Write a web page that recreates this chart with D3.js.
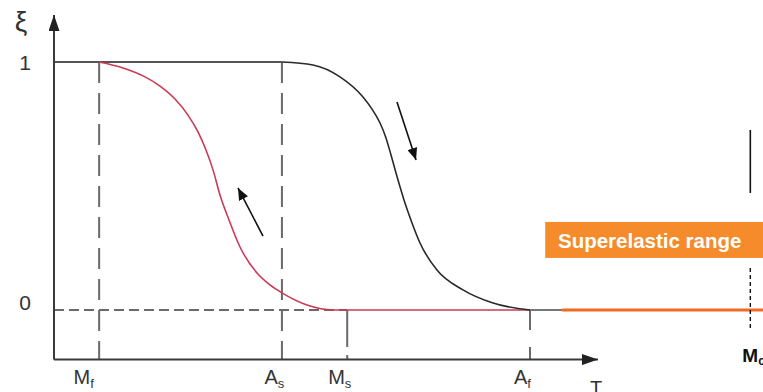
<!DOCTYPE html>
<html>
<head>
<meta charset="utf-8">
<script src="https://cdn.jsdelivr.net/npm/d3@7/dist/d3.min.js"></script>
<style>
  html, body { margin: 0; padding: 0; background: #fff; }
  svg { display: block; font-family: "Liberation Sans", Arial, sans-serif; }
</style>
</head>
<body>
<svg id="chart" width="763" height="392"></svg>
<script>
// Transformation temperatures (T, arbitrary units) with their symbols
const transitionMain = ["M", "A", "M", "A"];
const transitionSub = ["f", "s", "s", "f"];
const transitionT = [8.3, 41.9, 53.9, 87.5];
const mcT = 128;

// Martensite fraction ticks
const xiTicks = [0, 1];

// Cooling branch (austenite -> martensite), red
const coolingT = [8.27, 12.68, 16.73, 19.49, 22.24, 24.63, 26.47, 27.94, 29.23, 30.51, 32.17, 34.19, 37.32, 39.71, 41.91, 46.51, 51.29, 87.5];
const coolingXi = [1, 0.976, 0.940, 0.903, 0.851, 0.786, 0.718, 0.645, 0.565, 0.464, 0.363, 0.254, 0.149, 0.101, 0.069, 0.020, 0, 0];

// Heating branch (martensite -> austenite), black
const heatingT = [41.91, 47.61, 52.57, 56.80, 58.46, 59.93, 61.03, 61.95, 63.24, 64.52, 65.81, 67.28, 70.40, 75.18, 80.70, 87.5];
const heatingXi = [1, 0.988, 0.940, 0.859, 0.810, 0.754, 0.694, 0.625, 0.524, 0.431, 0.351, 0.270, 0.161, 0.081, 0.028, 0];

// Superelastic range along ξ = 0
const superelasticT = [93.4, 131];

const svg = d3.select("#chart");
const x = d3.scaleLinear().domain([0, 100]).range([54, 598]);
const y = d3.scaleLinear().domain([0, 1]).range([310, 62]);
const xiMin = -0.2, xiMax = 1.19;

const defs = svg.append("defs");
function arrowMarker(id, color, w, h) {
  defs.append("marker").attr("id", id)
    .attr("viewBox", `0 0 ${w} ${h}`).attr("refX", w).attr("refY", h / 2)
    .attr("markerWidth", w).attr("markerHeight", h)
    .attr("markerUnits", "userSpaceOnUse").attr("orient", "auto")
    .append("path").attr("d", `M0,0L${w},${h / 2}L0,${h}Z`).attr("fill", color);
}
arrowMarker("axisHead", "#222", 16, 11);
arrowMarker("dirHead", "#111", 12, 10);

const grey = "#6a6a6a";

// Dashed guides
svg.append("line").attr("x1", x(0)).attr("x2", x(transitionT[2]))
  .attr("y1", y(0)).attr("y2", y(0))
  .attr("stroke", grey).attr("stroke-width", 2).attr("stroke-dasharray", "10 5");
const guideTop = [1, 1, 0, 0];
const guideDash = ["21 10", "21 10", "37 8", "20 17"];
transitionT.forEach((t, i) => {
  svg.append("line").attr("x1", x(t)).attr("x2", x(t))
    .attr("y1", y(guideTop[i])).attr("y2", y(xiMin))
    .attr("stroke", grey).attr("stroke-width", 2).attr("stroke-dasharray", guideDash[i]);
});

// Upper plateau ξ = 1
svg.append("line").attr("x1", x(0)).attr("x2", x(transitionT[1]))
  .attr("y1", y(1)).attr("y2", y(1))
  .attr("stroke", "#555").attr("stroke-width", 2);

// Short grey stretch after Af, then the superelastic range
svg.append("line").attr("x1", x(transitionT[3])).attr("x2", x(superelasticT[0]))
  .attr("y1", y(0)).attr("y2", y(0)).attr("stroke", "#777").attr("stroke-width", 2);
svg.append("line").attr("x1", x(superelasticT[0])).attr("x2", x(superelasticT[1]))
  .attr("y1", y(0)).attr("y2", y(0)).attr("stroke", "#f26a22").attr("stroke-width", 3);

// Transformation curves
const line = d3.line().x(d => x(d[0])).y(d => y(d[1])).curve(d3.curveMonotoneX);
svg.append("path").datum(coolingT.map((t, i) => [t, coolingXi[i]]))
  .attr("d", line).attr("fill", "none").attr("stroke", "#cc3b55").attr("stroke-width", 1.6);
svg.append("path").datum(heatingT.map((t, i) => [t, heatingXi[i]]))
  .attr("d", line).attr("fill", "none").attr("stroke", "#2a2a2a").attr("stroke-width", 1.6);

// Direction arrows
const arrows = [
  { from: [63.05, 0.839], to: [66.55, 0.605] },
  { from: [38.42, 0.298], to: [33.82, 0.492] }
];
arrows.forEach(a => {
  svg.append("line").attr("x1", x(a.from[0])).attr("y1", y(a.from[1]))
    .attr("x2", x(a.to[0])).attr("y2", y(a.to[1]))
    .attr("stroke", "#111").attr("stroke-width", 1.6).attr("marker-end", "url(#dirHead)");
});

// Axes with arrowheads
svg.append("line").attr("x1", x(0)).attr("x2", x(0)).attr("y1", y(xiMin)).attr("y2", y(xiMax))
  .attr("stroke", "#3a3a3a").attr("stroke-width", 2).attr("marker-end", "url(#axisHead)");
svg.append("line").attr("x1", x(0)).attr("x2", x(100)).attr("y1", y(xiMin)).attr("y2", y(xiMin))
  .attr("stroke", "#3a3a3a").attr("stroke-width", 2).attr("marker-end", "url(#axisHead)");

// ξ tick labels
const yAxis = svg.append("g").attr("transform", `translate(${x(0) - 20},0)`)
  .call(d3.axisLeft(y).tickValues(xiTicks).tickSize(0).tickFormat(d3.format("d")));
yAxis.select(".domain").remove();
yAxis.selectAll("text").attr("font-size", 21).attr("fill", "#333")
  .attr("font-family", "Liberation Sans, Arial, sans-serif")
  .attr("dy", d => d === 1 ? "0.36em" : "-0.02em");

// Temperature labels with subscripts
const xAxis = svg.append("g").attr("transform", `translate(0,${y(xiMin)})`)
  .call(d3.axisBottom(x).tickValues(transitionT).tickSize(0).tickFormat(""));
xAxis.select(".domain").remove();
xAxis.selectAll(".tick text").remove();
xAxis.selectAll(".tick").each(function (d, i) {
  const t = d3.select(this).append("text")
    .attr("x", i === 0 ? -16 : -8).attr("y", 24)
    .attr("fill", "#333").attr("font-size", 20)
    .attr("font-family", "Liberation Sans, Arial, sans-serif");
  t.append("tspan").text(transitionMain[i]);
  t.append("tspan").attr("font-size", 13).attr("dy", 4).text(transitionSub[i]);
});

// Axis titles
svg.append("text").attr("x", 21).attr("y", 31).attr("text-anchor", "middle")
  .attr("font-size", 28).attr("fill", "#333").text("ξ");
svg.append("text").attr("x", 596).attr("y", 395).attr("text-anchor", "middle")
  .attr("font-size", 20).attr("fill", "#333").text("T");

// Mc marker beyond the axis
svg.append("line").attr("x1", x(mcT)).attr("x2", x(mcT)).attr("y1", y(0.726)).attr("y2", y(0.472))
  .attr("stroke", "#111").attr("stroke-width", 1.6);
svg.append("line").attr("x1", x(mcT)).attr("x2", x(mcT)).attr("y1", y(0.169)).attr("y2", y(-0.073))
  .attr("stroke", "#111").attr("stroke-width", 1.4).attr("stroke-dasharray", "4 3");
const mc = svg.append("text").attr("x", x(mcT) - 8).attr("y", 362)
  .attr("font-size", 19).attr("font-weight", "bold").attr("fill", "#111");
mc.append("tspan").text("M");
mc.append("tspan").attr("font-size", 12).attr("dy", 3).text("c");

// Superelastic range label
svg.append("rect").attr("x", x(90.3)).attr("y", y(0.355))
  .attr("width", 230).attr("height", y(0.21) - y(0.355)).attr("fill", "#f58b2b");
svg.append("text").attr("x", 558).attr("y", 248)
  .attr("font-size", 20.5).attr("font-weight", "bold").attr("fill", "#fff")
  .text("Superelastic range");
</script>
</body>
</html>
